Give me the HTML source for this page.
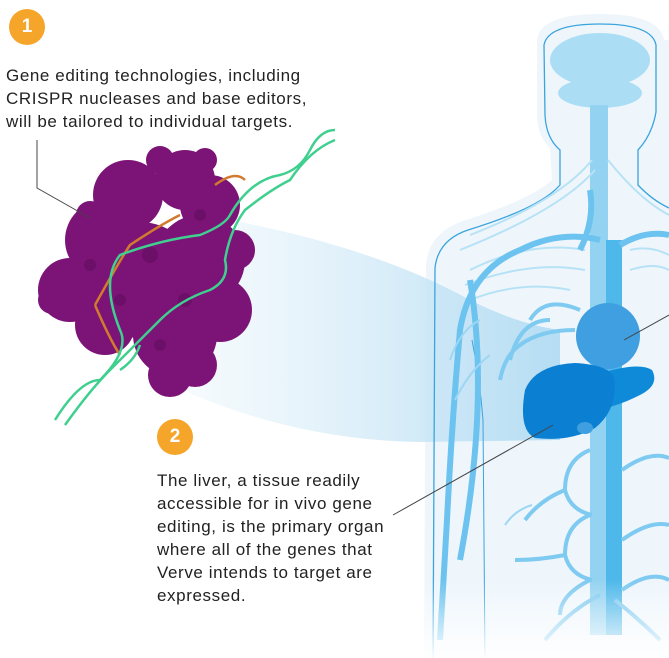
<!DOCTYPE html>
<html><head><style>
html,body{margin:0;padding:0;background:#fff;width:669px;height:658px;overflow:hidden}
svg{position:absolute;left:0;top:0}
.t{position:absolute;font-family:"Liberation Sans",sans-serif;font-size:17px;letter-spacing:0.6px;color:#222;line-height:23px;white-space:nowrap}
.b{position:absolute;width:36px;height:36px;border-radius:50%;background:#f5a52a;color:#fff;font:bold 19px "Liberation Sans",sans-serif;text-align:center;line-height:36px}
</style></head><body>
<svg width="669" height="658" viewBox="0 0 669 658">
<defs>
<linearGradient id="beam" x1="0" y1="0" x2="1" y2="0">
<stop offset="0" stop-color="#d7ecf8" stop-opacity="0.15"/>
<stop offset="1" stop-color="#b5ddf3"/>
</linearGradient>
<linearGradient id="fade" x1="0" y1="0" x2="0" y2="1">
<stop offset="0" stop-color="#fff" stop-opacity="0"/>
<stop offset="1" stop-color="#fff" stop-opacity="0.95"/>
</linearGradient>
</defs>
<path d="M424 660 L426 265 Q428 235 460 222 Q530 200 552 180 L550 148 Q536 135 537 110 L537 40 Q540 14 600 14 Q660 14 664 40 L669 40 L669 660 Z" fill="#eef6fc"/>
<path d="M240 222 Q380 250 470 300 Q520 325 560 330 L560 440 L420 442 Q280 440 150 375 Z" fill="url(#beam)"/>
<path d="M433 660 L435 268 Q438 240 468 230 Q540 208 560 185 L560 150 Q546 138 545 115 L544 45 Q548 24 600 24 Q652 24 656 45 L656 112 Q652 135 638 150 L638 185 Q652 200 669 208" fill="none" stroke="#3aa4dd" stroke-width="1.3"/>
<path d="M485 660 L483 420 Q480 380 472 340" fill="none" stroke="#3aa4dd" stroke-width="1"/>
<ellipse cx="600" cy="60" rx="50" ry="27" fill="#abdef4"/>
<ellipse cx="600" cy="93" rx="42" ry="15" fill="#abdef4"/>
<rect x="590" y="105" width="18" height="530" fill="#93d3f1"/>
<rect x="606" y="240" width="16" height="395" fill="#4fb8ea"/>
<g fill="none" stroke="#b7e2f6" stroke-width="2">
<path d="M592 160 Q560 200 470 235"/><path d="M595 170 Q560 210 460 250"/>
<path d="M608 160 Q640 200 669 215"/><path d="M470 270 Q530 240 585 250"/>
<path d="M465 285 Q530 260 585 270"/><path d="M470 300 Q520 280 570 290"/>
<path d="M630 250 Q650 245 669 255"/><path d="M630 270 Q655 262 669 270"/>
</g>
<g fill="none" stroke="#6cc3ef" stroke-width="6">
<path d="M600 240 Q560 230 520 250 Q470 270 460 330 Q452 420 447 520 L440 640"/>
<path d="M580 250 Q595 220 590 190"/>
<path d="M620 245 Q645 230 669 235"/>
<path d="M470 280 Q490 400 460 560"/>
</g>
<g fill="none" stroke="#7fcaf0" stroke-width="4">
<path d="M575 330 Q540 330 520 345 Q505 355 500 380"/>
<path d="M580 310 Q545 295 530 320"/>
<path d="M550 320 Q520 320 510 360"/>
<path d="M590 450 Q565 460 565 490 Q570 510 592 515"/>
<path d="M590 515 Q565 525 565 555 Q570 575 592 580"/>
<path d="M590 580 Q560 595 560 615"/>
<path d="M622 470 Q650 450 669 458"/>
<path d="M622 540 Q650 520 669 525"/>
<path d="M622 590 Q650 570 669 580"/>
<path d="M565 490 Q540 500 525 520"/>
<path d="M565 555 Q540 560 515 560"/>
<path d="M600 595 Q570 610 545 640"/>
<path d="M615 600 Q640 620 660 640"/>
</g>
<g fill="none" stroke="#9dd6f3" stroke-width="2">
<path d="M450 360 Q460 330 480 320"/><path d="M455 400 Q470 370 490 355"/>
<path d="M532 505 Q515 510 505 525"/>
</g>
<ellipse cx="608" cy="336" rx="32" ry="33" fill="#3f9fe0"/>
<path d="M605 372 Q640 362 652 370 Q660 385 640 395 Q620 405 605 408 Z" fill="#0e8ad8"/>
<path d="M525 390 Q535 365 575 363 Q610 365 614 378 Q618 410 595 428 Q570 442 535 438 Q518 430 525 390 Z" fill="#0b7fd2"/>
<ellipse cx="585" cy="428" rx="8" ry="6" fill="#3f9fe0"/>
<!-- molecule -->
<g fill="#7c1477">
<circle cx="128" cy="195" r="35"/><circle cx="185" cy="180" r="30"/><circle cx="210" cy="205" r="30"/>
<circle cx="105" cy="240" r="40"/><circle cx="70" cy="290" r="32"/><circle cx="140" cy="280" r="58"/>
<circle cx="200" cy="260" r="45"/><circle cx="220" cy="310" r="32"/><circle cx="175" cy="335" r="42"/>
<circle cx="105" cy="325" r="30"/><circle cx="170" cy="375" r="22"/><circle cx="195" cy="365" r="22"/>
<circle cx="235" cy="250" r="20"/><circle cx="160" cy="160" r="14"/><circle cx="205" cy="160" r="12"/>
<circle cx="52" cy="300" r="14"/><circle cx="90" cy="215" r="14"/>
</g>
<g fill="#5e0c5a" opacity="0.5">
<circle cx="150" cy="255" r="8"/><circle cx="185" cy="300" r="7"/><circle cx="120" cy="300" r="6"/>
<circle cx="200" cy="215" r="6"/><circle cx="90" cy="265" r="6"/><circle cx="160" cy="345" r="6"/>
</g>
<g fill="none" stroke-width="2.5">
<path d="M95 305 Q120 260 130 245 Q160 225 180 215" stroke="#d27a2e"/>
<path d="M95 305 Q110 340 120 355" stroke="#d27a2e"/>
<path d="M215 185 Q235 170 245 180" stroke="#d27a2e"/>
<path d="M55 420 Q80 380 100 380 Q130 350 120 330 Q100 280 120 255 Q160 240 200 235 Q225 225 230 215 Q250 180 280 175 Q300 170 310 150 Q320 130 335 130" stroke="#3fcf8e"/>
<path d="M65 425 Q90 390 110 370 Q140 340 160 320 Q180 300 210 290 Q230 280 225 260 Q230 230 245 210 Q270 190 290 180 Q310 150 335 140" stroke="#3fcf8e"/>
<path d="M120 370 Q135 360 140 345" stroke="#3fcf8e"/>
</g>
<g stroke="#444" stroke-width="1" fill="none">
<path d="M37 140 L37 188 L90 218"/>
<path d="M553 425 L393 515"/>
<path d="M624 340 L669 315"/>
</g>
<rect x="420" y="580" width="249" height="78" fill="url(#fade)"/>
</svg>
<div class="b" style="left:9px;top:9px">1</div>
<div class="t" style="left:6px;top:64px">Gene editing technologies, including<br>CRISPR nucleases and base editors,<br>will be tailored to individual targets.</div>
<div class="b" style="left:157px;top:419px">2</div>
<div class="t" style="left:157px;top:469px">The liver, a tissue readily<br>accessible for in vivo gene<br>editing, is the primary organ<br>where all of the genes that<br>Verve intends to target are<br>expressed.</div>
</body></html>
